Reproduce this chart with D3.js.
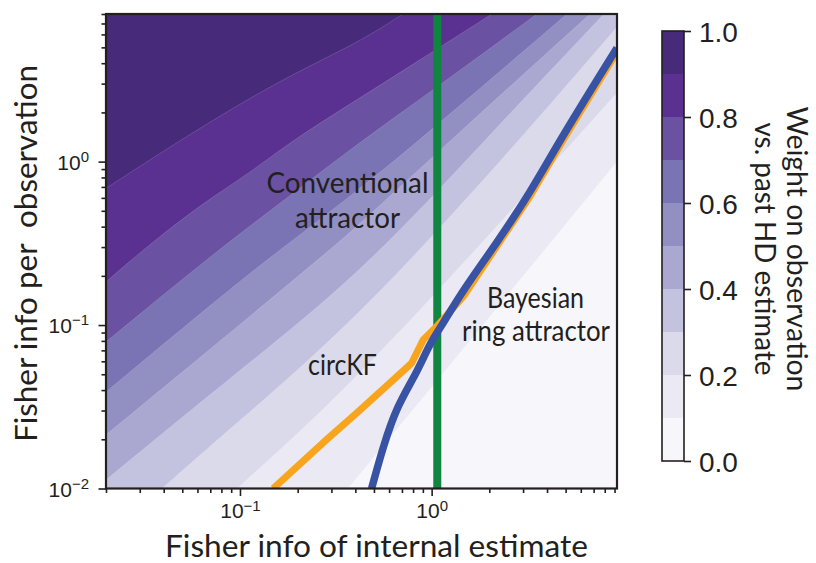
<!DOCTYPE html>
<html>
<head>
<meta charset="utf-8">
<script src="https://cdn.jsdelivr.net/npm/d3@7"></script>
<style>
  html, body { margin: 0; padding: 0; background: #ffffff; }
  svg { display: block; }
  text { fill: #231f20; }
</style>
</head>
<body>
<svg id="chart" width="816" height="563"></svg>
<script>
// ---- data -------------------------------------------------------------
// Axis extents (Fisher information, log scales)
const xDomain = [0.02, 9.27];   // Fisher info of internal estimate
const yDomain = [0.01, 8];      // Fisher info per observation

// Weight contour levels and band colours (lowest band first)
const levels = [0.1, 0.2, 0.3, 0.4, 0.5, 0.6, 0.7, 0.8, 0.9];
const bandColors = ["#f7f6fa", "#ebe9f3", "#dadaeb", "#c4c3df", "#aaa8d0",
                    "#928fc2", "#7a73b4", "#6a51a2", "#5a3190", "#472a7a"];

// Iso-weight boundaries: [internal Fisher info, observation Fisher info]
const w10 = [[0.366, 0.01], [1.786, 0.0948], [9.27, 1.0]];
const w20 = [[0.0965, 0.01], [0.2947, 0.0325], [0.98, 0.1426], [3.257, 0.671], [9.27, 2.632]];
const w30 = [[0.0392, 0.01], [0.0887, 0.0232], [0.4226, 0.1122], [2.888, 1.357], [9.27, 6.67]];
const w40 = [[0.02, 0.0113], [0.0887, 0.0475], [0.4226, 0.2028], [1.897, 1.357], [7.92, 8]];
const w50 = [[0.02, 0.0213], [0.0887, 0.0896], [0.2947, 0.2884], [0.4226, 0.4159], [1.261, 1.357], [6.70, 8]];
const w60 = [[0.02, 0.039], [0.0887, 0.1665], [0.1617, 0.2884], [0.4226, 0.681], [0.869, 1.357], [5.08, 8]];
const w70 = [[0.02, 0.0789], [0.0768, 0.2884], [0.1823, 0.617], [0.4226, 1.32], [1.246, 3.25], [3.542, 8]];
const w80 = [[0.02, 0.1837], [0.0312, 0.2884], [0.0618, 0.5434], [0.1128, 0.853], [0.189, 1.357],
             [0.4226, 2.453], [0.869, 4.19], [2.063, 8]];
const w90 = [[0.02, 0.686], [0.0548, 1.477], [0.1617, 3.16], [0.4226, 5.40], [0.708, 8]];

// Model curves
const circKF = [[0.149, 0.01], [0.283, 0.0199], [0.406, 0.0289], [0.631, 0.0462], [0.786, 0.0585],
                [0.904, 0.0812], [1.062, 0.0979], [1.461, 0.149], [2.183, 0.302], [3.257, 0.611],
                [4.859, 1.357], [9.27, 4.70]];
const bayesRing = [[0.486, 0.01], [0.559, 0.0181], [0.657, 0.0317], [0.835, 0.0508], [0.980, 0.0775],
                   [1.150, 0.1027], [1.461, 0.164], [2.183, 0.317], [3.257, 0.641], [4.67, 1.357],
                   [9.27, 4.96]];
const internalInfoMarker = 1.07;

// Ticks
const xTicks = [0.1, 1];
const xTickLabels = [["10", "\u22121"], ["10", "0"]];
const xMinor = [0.02, 0.03, 0.04, 0.05, 0.06, 0.07, 0.08, 0.09,
                0.2, 0.3, 0.4, 0.5, 0.6, 0.7, 0.8, 0.9, 2, 3, 4, 5, 6, 7, 8, 9];
const yTicks = [0.01, 0.1, 1];
const yTickLabels = [["10", "\u22122"], ["10", "\u22121"], ["10", "0"]];
const yMinor = [0.02, 0.03, 0.04, 0.05, 0.06, 0.07, 0.08, 0.09,
                0.2, 0.3, 0.4, 0.5, 0.6, 0.7, 0.8, 0.9, 2, 3, 4, 5, 6, 7, 8];
const cbTicks = [0, 0.2, 0.4, 0.6, 0.8, 1.0];

// ---- layout -----------------------------------------------------------
const ink = "#231f20";
const textFont = "Lato, 'Open Sans', sans-serif";
const numFont = "'Liberation Sans', Arial, Helvetica, sans-serif";
const plot = { left: 106, right: 617, top: 14, bottom: 488.5 };
const cb = { left: 662, right: 684, top: 31, bottom: 461 };

const svg = d3.select("#chart");
const x = d3.scaleLog().domain(xDomain).range([plot.left, plot.right]);
const y = d3.scaleLog().domain(yDomain).range([plot.bottom, plot.top]);

svg.append("defs").append("clipPath").attr("id", "plotClip")
  .append("rect")
  .attr("x", plot.left).attr("y", plot.top)
  .attr("width", plot.right - plot.left).attr("height", plot.bottom - plot.top);

const gPlot = svg.append("g").attr("clip-path", "url(#plotClip)");

// ---- filled contour bands --------------------------------------------
gPlot.append("rect")
  .attr("x", plot.left).attr("y", plot.top)
  .attr("width", plot.right - plot.left).attr("height", plot.bottom - plot.top)
  .attr("fill", bandColors[0]);

const boundaries = [w10, w20, w30, w40, w50, w60, w70, w80, w90];
const edgeLine = d3.line().x(d => x(d[0])).y(d => y(d[1])).curve(d3.curveBasis);
const corners = [[xDomain[1], yDomain[1]], [xDomain[0], yDomain[1]], [xDomain[0], yDomain[0]]];

boundaries.forEach((b, i) => {
  // region with weight above this level lies up and to the left of the boundary
  const d = edgeLine(b) + corners.map(c => `L${x(c[0])},${y(c[1])}`).join("") + "Z";
  gPlot.append("path").attr("d", d).attr("fill", bandColors[i + 1])
    .attr("data-level", levels[i]);
});
boundaries.forEach(b => {
  gPlot.append("path").attr("d", edgeLine(b)).attr("fill", "none")
    .attr("stroke", "#ffffff").attr("stroke-opacity", 0.25).attr("stroke-width", 0.6);
});

// ---- marker and model curves -----------------------------------------
gPlot.append("line")
  .attr("x1", x(internalInfoMarker)).attr("x2", x(internalInfoMarker))
  .attr("y1", y(yDomain[0])).attr("y2", y(yDomain[1]))
  .attr("stroke", "#0f8540").attr("stroke-width", 8);

const kfLine = d3.line().x(d => x(d[0])).y(d => y(d[1]));
const ringLine = d3.line().x(d => x(d[0])).y(d => y(d[1])).curve(d3.curveBasis);
gPlot.append("path").datum(circKF).attr("d", kfLine)
  .attr("fill", "none").attr("stroke", "#f8a51d").attr("stroke-width", 7)
  .attr("stroke-linejoin", "round");
gPlot.append("path").datum(bayesRing).attr("d", ringLine)
  .attr("fill", "none").attr("stroke", "#3953a4").attr("stroke-width", 7.5)
  .attr("stroke-linejoin", "round");

// ---- in-plot labels ---------------------------------------------------
function label(txt, cx, base, len) {
  svg.append("text").attr("x", cx).attr("y", base)
    .attr("text-anchor", "middle").attr("font-family", textFont).attr("font-size", 28)
    .attr("textLength", len).attr("lengthAdjust", "spacingAndGlyphs")
    .text(txt);
}
label("Conventional", 347.5, 193, 162);
label("attractor", 347.5, 228, 105);
label("circKF", 342.5, 375, 69);
label("Bayesian", 535.5, 308, 97);
label("ring attractor", 536, 341, 148);

// ---- axes -------------------------------------------------------------
function styleAxis(g) {
  g.select(".domain").remove();
  g.selectAll(".tick line").attr("stroke", ink).attr("stroke-width", 1.6);
  g.selectAll(".tick text").remove();
}

const gxMinor = svg.append("g").attr("transform", `translate(0,${plot.bottom})`)
  .call(d3.axisBottom(x).tickValues(xMinor).tickSize(4.5).tickFormat(() => ""));
styleAxis(gxMinor);
const gx = svg.append("g").attr("transform", `translate(0,${plot.bottom})`)
  .call(d3.axisBottom(x).tickValues(xTicks).tickSize(7.5).tickFormat(() => ""));
styleAxis(gx);
gx.selectAll(".tick").each(function (d, i) {
  const t = d3.select(this).append("text")
    .attr("y", 29).attr("text-anchor", "middle")
    .attr("font-family", numFont).attr("font-size", 21).attr("fill", ink);
  t.append("tspan").text(xTickLabels[i][0]);
  t.append("tspan").attr("dy", -7).attr("font-size", 15).text(xTickLabels[i][1]);
});

const gyMinor = svg.append("g").attr("transform", `translate(${plot.left},0)`)
  .call(d3.axisLeft(y).tickValues(yMinor).tickSize(4.5).tickFormat(() => ""));
styleAxis(gyMinor);
const gy = svg.append("g").attr("transform", `translate(${plot.left},0)`)
  .call(d3.axisLeft(y).tickValues(yTicks).tickSize(7.5).tickFormat(() => ""));
styleAxis(gy);
gy.selectAll(".tick").each(function (d, i) {
  const t = d3.select(this).append("text")
    .attr("x", -17).attr("y", 7.5).attr("text-anchor", "end")
    .attr("font-family", numFont).attr("font-size", 21).attr("fill", ink);
  t.append("tspan").text(yTickLabels[i][0]);
  t.append("tspan").attr("dy", -8).attr("font-size", 15).text(yTickLabels[i][1]);
});

// plot frame
svg.append("rect")
  .attr("x", plot.left).attr("y", plot.top)
  .attr("width", plot.right - plot.left).attr("height", plot.bottom - plot.top)
  .attr("fill", "none").attr("stroke", ink).attr("stroke-width", 2.2);

// axis titles
svg.append("text").attr("x", 165).attr("y", 556.5)
  .attr("font-family", textFont).attr("font-size", 30)
  .attr("textLength", 423).attr("lengthAdjust", "spacingAndGlyphs")
  .text("Fisher info of internal estimate");
svg.append("text").attr("transform", "translate(37,442) rotate(-90)")
  .attr("font-family", textFont).attr("font-size", 30)
  .attr("textLength", 377).attr("lengthAdjust", "spacingAndGlyphs")
  .style("white-space", "pre")
  .text("Fisher info per  observation");

// ---- colour bar -------------------------------------------------------
const cbScale = d3.scaleLinear().domain([0, 1]).range([cb.bottom, cb.top]);
const cbEdges = [0].concat(levels, [1]);
svg.append("g").selectAll("rect").data(bandColors).join("rect")
  .attr("x", cb.left).attr("width", cb.right - cb.left)
  .attr("y", (c, i) => cbScale(cbEdges[i + 1]))
  .attr("height", (c, i) => cbScale(cbEdges[i]) - cbScale(cbEdges[i + 1]))
  .attr("fill", c => c);
svg.append("rect")
  .attr("x", cb.left).attr("y", cb.top)
  .attr("width", cb.right - cb.left).attr("height", cb.bottom - cb.top)
  .attr("fill", "none").attr("stroke", ink).attr("stroke-width", 1.6);

const gcb = svg.append("g").attr("transform", `translate(${cb.right},0)`)
  .call(d3.axisRight(cbScale).tickValues(cbTicks).tickSize(7).tickPadding(8)
    .tickFormat(d3.format(".1f")));
gcb.select(".domain").remove();
gcb.selectAll(".tick line").attr("stroke", ink).attr("stroke-width", 1.6);
gcb.selectAll(".tick text")
  .attr("font-family", numFont).attr("font-size", 28).attr("fill", ink)
  .attr("dy", null).attr("y", 10);

svg.append("text").attr("transform", "translate(787,249) rotate(90)")
  .attr("text-anchor", "middle").attr("font-family", textFont).attr("font-size", 29)
  .attr("textLength", 285).attr("lengthAdjust", "spacingAndGlyphs")
  .text("Weight on observation");
svg.append("text").attr("transform", "translate(755,249) rotate(90)")
  .attr("text-anchor", "middle").attr("font-family", textFont).attr("font-size", 29)
  .attr("textLength", 253).attr("lengthAdjust", "spacingAndGlyphs")
  .text("vs. past HD estimate");
</script>
</body>
</html>
